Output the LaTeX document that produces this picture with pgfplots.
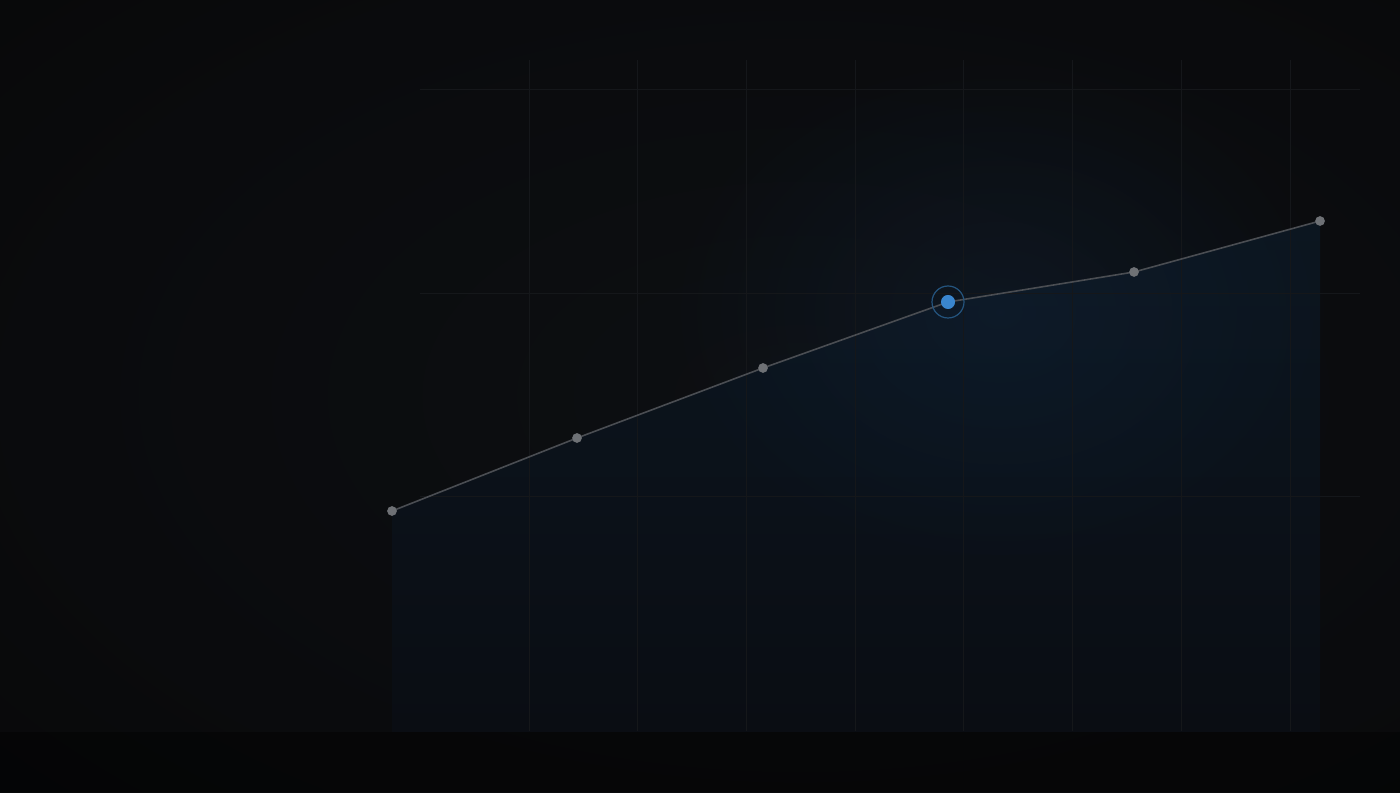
\documentclass[border=0pt]{standalone}
\usepackage{pgfplots}
\pgfplotsset{compat=1.18}
\usetikzlibrary{fadings}

\definecolor{bgcenter}{HTML}{0D0F12}
\definecolor{bgmid}{HTML}{0A0B0D}
\definecolor{bgedge}{HTML}{060606}
\definecolor{gridc}{HTML}{15171A}
\definecolor{linec}{HTML}{4A4D52}
\definecolor{markc}{HTML}{6E7175}
\definecolor{hilite}{HTML}{3A86CE}
\definecolor{ringc}{HTML}{24547E}
\definecolor{areatop}{HTML}{0C1620}
\definecolor{areabot}{HTML}{0A0D13}
\definecolor{glowc}{HTML}{11243A}

\pgfdeclareradialshading{vignette}{\pgfpoint{0bp}{0bp}}{%
  color(0bp)=(bgcenter); color(18bp)=(bgmid); color(34bp)=(bgedge); color(50bp)=(bgedge)}
\tikzfading[name=glowfade, inner color=transparent!0, outer color=transparent!100]

% series in pixel units of the reference (y counted upwards)
\pgfplotstableread{
x     y
392   281
577   354
763   424
948   490
1134  520
1320  571
}\series

\begin{document}
\begin{tikzpicture}
\begin{axis}[
    scale only axis,
    width=700pt, height=396pt,
    xmin=0, xmax=1400, ymin=0, ymax=792,
    hide axis,
    clip=true,
]
% background
\path[shading=vignette] (axis cs:-250,-200) rectangle (axis cs:1850,992);

% area under the line, down to the base at y=60
\addplot[draw=none, top color=areatop, bottom color=areabot, forget plot]
    table[x=x, y=y] {\series} |- (axis cs:392,60) -- cycle;
\fill[glowc, opacity=0.4, path fading=glowfade] (axis cs:1000,480) ellipse [x radius=170pt, y radius=130pt];
\fill[black, opacity=0.4] (axis cs:0,0) rectangle (axis cs:1400,60);

% grid
\draw[gridc, line width=0.5pt] (axis cs:529,61) -- (axis cs:529,732);
\draw[gridc, line width=0.5pt] (axis cs:637.5,61) -- (axis cs:637.5,732);
\draw[gridc, line width=0.5pt] (axis cs:746,61) -- (axis cs:746,732);
\draw[gridc, line width=0.5pt] (axis cs:855,61) -- (axis cs:855,732);
\draw[gridc, line width=0.5pt] (axis cs:963.5,61) -- (axis cs:963.5,732);
\draw[gridc, line width=0.5pt] (axis cs:1072,61) -- (axis cs:1072,732);
\draw[gridc, line width=0.5pt] (axis cs:1181,61) -- (axis cs:1181,732);
\draw[gridc, line width=0.5pt] (axis cs:1290,61) -- (axis cs:1290,732);
\draw[gridc, line width=0.5pt] (axis cs:420,702) -- (axis cs:1360,702);
\draw[gridc, line width=0.5pt] (axis cs:420,498.5) -- (axis cs:1360,498.5);
\draw[gridc, line width=0.5pt] (axis cs:420,295) -- (axis cs:1360,295);

% line and markers
\addplot[linec, line width=0.8pt, mark=*, mark size=2pt,
    mark options={fill=markc, draw=markc}]
    table[x=x, y=y] {\series};

% highlighted point
\addplot[only marks, mark=o, mark size=8pt, mark options={draw=ringc, line width=0.6pt}]
    coordinates {(948,490)};
\addplot[only marks, mark=*, mark size=3.3pt, mark options={fill=hilite, draw=hilite}]
    coordinates {(948,490)};
\end{axis}
\end{tikzpicture}
\end{document}
